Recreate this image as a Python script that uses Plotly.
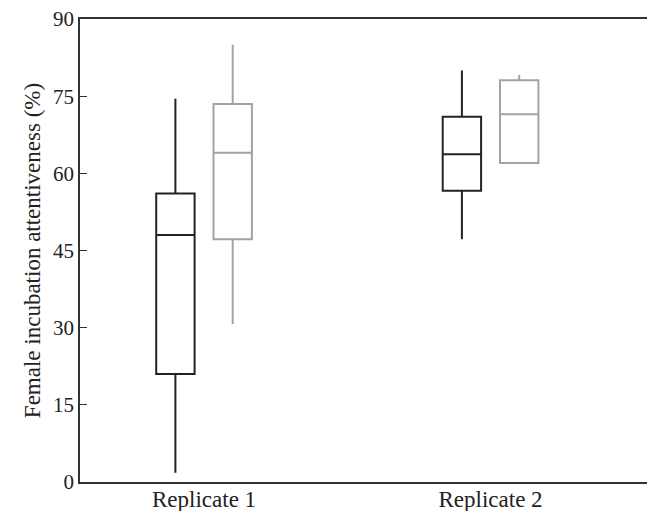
import plotly.graph_objects as go

categories = ["Replicate 1", "Replicate 2"]
# black series
black_lower = [1.8, 47.2]
black_q1 = [21.0, 56.6]
black_median = [48.0, 63.7]
black_q3 = [56.1, 71.0]
black_upper = [74.5, 80.0]
# grey series
grey_lower = [30.7, 62.0]
grey_q1 = [47.2, 62.0]
grey_median = [64.0, 71.5]
grey_q3 = [73.5, 78.1]
grey_upper = [85.0, 79.1]
y_ticks = [0, 15, 30, 45, 60, 75, 90]

FONT = "Liberation Serif, DejaVu Serif, serif"

fig = go.Figure()
fig.add_trace(go.Box(
    x=categories, q1=black_q1, median=black_median, q3=black_q3,
    lowerfence=black_lower, upperfence=black_upper,
    line=dict(color="#222222", width=2), fillcolor="rgba(0,0,0,0)",
    whiskerwidth=0, boxpoints=False, name="A", offsetgroup="a",
))
fig.add_trace(go.Box(
    x=categories, q1=grey_q1, median=grey_median, q3=grey_q3,
    lowerfence=grey_lower, upperfence=grey_upper,
    line=dict(color="#a3a3a6", width=2), fillcolor="rgba(0,0,0,0)",
    whiskerwidth=0, boxpoints=False, name="B", offsetgroup="b",
))

# page body has an 8px default margin, so the figure is sized/offset to compensate
fig.update_layout(
    width=647, height=503,
    margin=dict(l=72, r=2, t=11, b=29),
    paper_bgcolor="white", plot_bgcolor="white",
    boxmode="group", boxgap=0.6, boxgroupgap=0.33,
    showlegend=False,
    font=dict(family=FONT, size=22, color="#222222"),
)
fig.update_xaxes(
    type="category", range=[-0.433, 1.567], automargin=False,
    showline=True, linecolor="#333333", linewidth=1.6, mirror=True,
    showgrid=False, ticks="", tickfont=dict(size=23, family=FONT),
    ticklabelstandoff=-4, ticklabeloverflow="allow",
    zeroline=False,
)
fig.update_yaxes(
    range=[0, 90], tickvals=y_ticks, ticktext=[str(v) for v in y_ticks],
    automargin=False, ticklabeloverflow="allow",
    showline=True, linecolor="#333333", linewidth=1.6, mirror=True,
    showgrid=False, ticks="inside", ticklen=7, tickwidth=1.3, tickcolor="#333333",
    tickfont=dict(size=21, family=FONT),
    title=dict(text="Female incubation attentiveness (%)", font=dict(size=23, family=FONT), standoff=6),
    zeroline=False,
)

fig.write_html("out.html")
